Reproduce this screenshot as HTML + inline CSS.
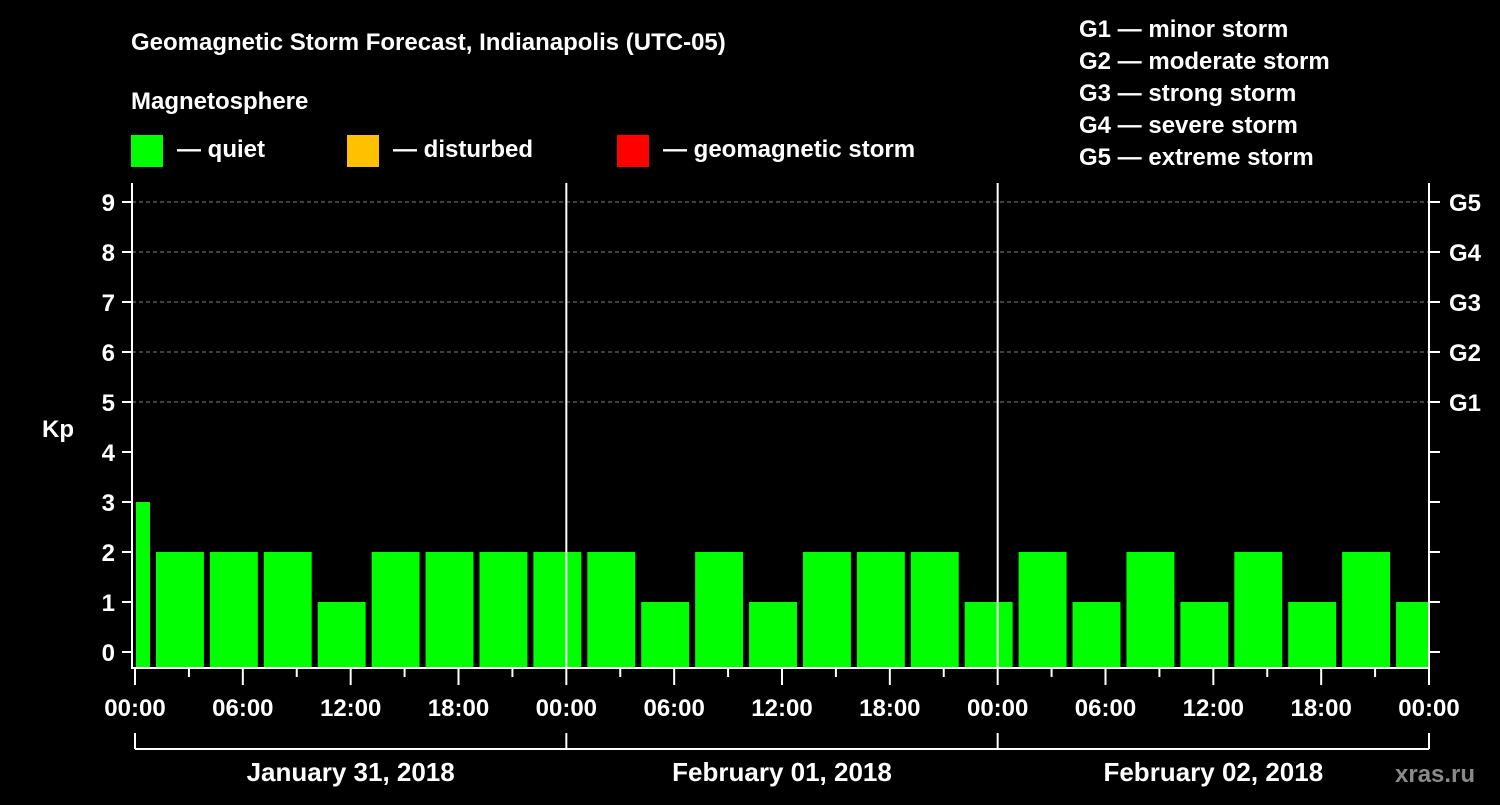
<!DOCTYPE html>
<html><head><meta charset="utf-8"><style>
body{margin:0;background:#000;}
svg text{font-family:"Liberation Sans",sans-serif;font-weight:bold;fill:#fff;}
</style></head><body>
<svg id="c" width="1500" height="800" xmlns="http://www.w3.org/2000/svg">
<rect width="1500" height="800" fill="#000"/>
<text x="131" y="50" font-size="24">Geomagnetic Storm Forecast, Indianapolis (UTC-05)</text>
<text x="131" y="109" font-size="24">Magnetosphere</text>
<g><rect x="131" y="135" width="32" height="32" fill="#00ff00"/><text x="177" y="157" font-size="24">— quiet</text></g>
<g><rect x="347" y="135" width="32" height="32" fill="#ffc000"/><text x="393" y="157" font-size="24">— disturbed</text></g>
<g><rect x="617" y="135" width="32" height="32" fill="#ff0000"/><text x="663" y="157" font-size="24">— geomagnetic storm</text></g>
<g font-size="24">
<text x="1079" y="37">G1 — minor storm</text>
<text x="1079" y="69">G2 — moderate storm</text>
<text x="1079" y="101">G3 — strong storm</text>
<text x="1079" y="133">G4 — severe storm</text>
<text x="1079" y="165">G5 — extreme storm</text>
</g>
<text x="42" y="437" font-size="24">Kp</text>
<text x="1395" y="782" font-size="24" fill="#888" style="fill:#8a8a8a">xras.ru</text>
<g id="plot"></g>
</svg>
<script>
const barStartHours=[-2,1,4,7,10,13,16,19,22,25,28,31,34,37,40,43,46,49,52,55,58,61,64,67,70];
const kpValues=[3,2,2,2,1,2,2,2,2,2,1,2,1,2,2,2,1,2,1,2,1,2,1,2,1];
const yTicks=[0,1,2,3,4,5,6,7,8,9];
const gLabels=["G1","G2","G3","G4","G5"];
const xTickLabels=["00:00","06:00","12:00","18:00","00:00","06:00","12:00","18:00","00:00","06:00","12:00","18:00","00:00"];
const dayLabels=["January 31, 2018","February 01, 2018","February 02, 2018"];
const NS="http://www.w3.org/2000/svg";
const X0=135,X1=1429,H=72,TOP=183,BOT=668;
const x=h=>X0+(X1-X0)*h/H;
const y=k=>652-50*k;
const plot=document.getElementById('plot');
function el(t,a,txt){const e=document.createElementNS(NS,t);for(const k in a)e.setAttribute(k,a[k]);if(txt!=null)e.textContent=txt;plot.appendChild(e);return e;}
// grid
for(let k=5;k<=9;k++){const g=el('line',{x1:132,x2:X1,y1:y(k),y2:y(k),stroke:'#808080','stroke-dasharray':'4,3','stroke-width':1});

}
// bars
barStartHours.forEach((s,i)=>{
 const a=Math.max(0,s),b=Math.min(H,s+3);
 let xa=x(a)+(s>=0?3:1),xb=x(b)-(s+3<=H?3:1);
 const r=el('rect',{x:xa,y:y(kpValues[i]),width:xb-xa,height:BOT-1-y(kpValues[i]),fill:'#00ff00'});
 
 
});
// day separators
[24,48].forEach(h=>{const l=el('line',{x1:x(h),x2:x(h),y1:TOP,y2:BOT,stroke:'#fff','stroke-width':2});

});
// frame
const f=el('path',{d:`M132 ${TOP} V${BOT} H${X1} V${TOP}`,stroke:'#fff','stroke-width':2,fill:'none'});


// y ticks
yTicks.forEach(k=>{
 el('line',{x1:122,x2:132,y1:y(k),y2:y(k),stroke:'#fff','stroke-width':2});
 el('line',{x1:X1,x2:1440,y1:y(k),y2:y(k),stroke:'#fff','stroke-width':2});
 const t=el('text',{x:115,y:y(k)+9,'font-size':24,'text-anchor':'end'},String(k));
 
 
});
gLabels.forEach((g,i)=>{const t=el('text',{x:1449,y:y(5+i)+9,'font-size':24},g);

});
// x ticks
for(let h=0;h<=H;h+=3){const major=h%6===0;el('line',{x1:x(h),x2:x(h),y1:BOT,y2:BOT+(major?17:9),stroke:'#fff','stroke-width':2});}
xTickLabels.forEach((l,i)=>{const t=el('text',{x:x(i*6),y:716,'font-size':24,'text-anchor':'middle'},l);

});
// date brackets
el('line',{x1:X0,x2:X1,y1:749,y2:749,stroke:'#fff','stroke-width':2});
[0,24,48,72].forEach(h=>el('line',{x1:x(h),x2:x(h),y1:733,y2:749,stroke:'#fff','stroke-width':2}));
dayLabels.forEach((d,i)=>{const t=el('text',{x:x(i*24+12),y:781,'font-size':26,'text-anchor':'middle'},d);

});
</script>
</body></html>
